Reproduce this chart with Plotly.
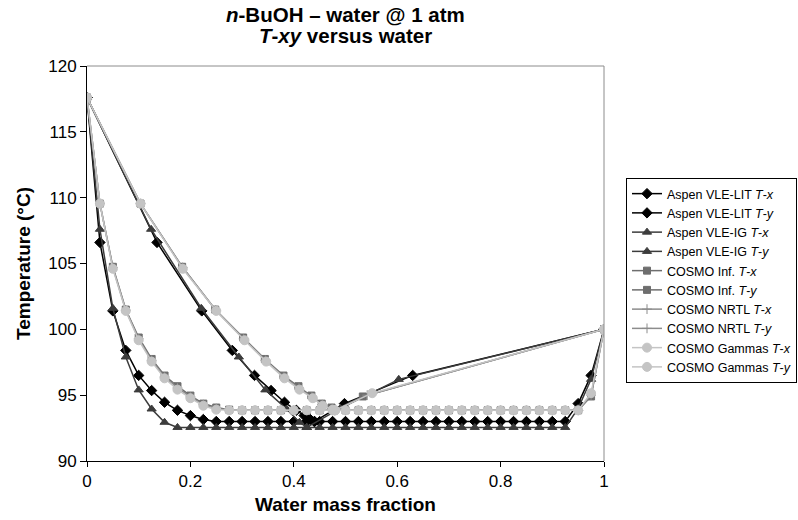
import plotly.graph_objects as go

# liquid mass fraction grid (x)
x_liq = [0.0, 0.025, 0.05, 0.075, 0.1, 0.125, 0.15, 0.175, 0.2, 0.225, 0.25,
         0.275, 0.3, 0.325, 0.35, 0.375, 0.4, 0.425, 0.45, 0.475, 0.5,
         0.525, 0.55, 0.575, 0.6, 0.625, 0.65, 0.675, 0.7, 0.725, 0.75,
         0.775, 0.8, 0.825, 0.85, 0.875, 0.9, 0.925, 0.95, 0.975, 1.0]

# Aspen VLE-LIT
lit_tx = [117.6, 106.6, 101.4, 98.4, 96.5, 95.35, 94.46, 93.85, 93.45, 93.15, 93.0,
          93.0, 93.0, 93.0, 93.0, 93.0, 93.0, 93.0, 93.0, 93.0, 93.0,
          93.0, 93.0, 93.0, 93.0, 93.0, 93.0, 93.0, 93.0, 93.0, 93.0,
          93.0, 93.0, 93.0, 93.0, 93.0, 93.0, 93.0, 94.36, 96.5, 100.0]
lit_y = [0.0, 0.1354, 0.222, 0.281, 0.324, 0.356, 0.382, 0.405, 0.42, 0.432, 0.44, 0.44, 0.498, 0.63, 1.0]
lit_ty = [117.6, 106.6, 101.4, 98.4, 96.5, 95.35, 94.46, 93.85, 93.45, 93.15, 93.0, 93.0, 94.36, 96.5, 100.0]

# Aspen VLE-IG
ig_tx = [117.6, 107.6, 101.6, 97.9, 95.4, 93.95, 92.94, 92.55, 92.55, 92.55, 92.55,
         92.55, 92.55, 92.55, 92.55, 92.55, 92.55, 92.55, 92.55, 92.55, 92.55,
         92.55, 92.55, 92.55, 92.55, 92.55, 92.55, 92.55, 92.55, 92.55, 92.55,
         92.55, 92.55, 92.55, 92.55, 92.55, 92.55, 92.55, 94.0, 96.2, 100.0]
ig_y = [0.0, 0.124, 0.221, 0.2937, 0.345, 0.386, 0.411, 0.425, 0.425, 0.49, 0.603, 1.0]
ig_ty = [117.6, 107.6, 101.6, 97.9, 95.4, 93.95, 92.94, 92.55, 92.55, 94.0, 96.2, 100.0]

# COSMO Inf.
inf_tx = [117.6, 109.55, 104.75, 101.5, 99.38, 97.75, 96.49, 95.68, 94.97, 94.36, 94.06,
          93.9, 93.85, 93.85, 93.85, 93.85, 93.85, 93.85, 93.85, 93.85, 93.85,
          93.85, 93.85, 93.85, 93.85, 93.85, 93.85, 93.85, 93.85, 93.85, 93.85,
          93.85, 93.85, 93.85, 93.85, 93.85, 93.85, 93.85, 93.85, 94.9, 100.0]
inf_y = [0.0, 0.1035, 0.184, 0.248, 0.302, 0.344, 0.38, 0.409, 0.434, 0.454, 0.473, 0.478, 0.478, 0.5335, 1.0]
inf_ty = [117.6, 109.55, 104.75, 101.5, 99.38, 97.75, 96.49, 95.68, 94.97, 94.36, 94.06, 93.85, 93.85, 94.9, 100.0]

# COSMO NRTL
nrtl_tx = [117.6, 109.55, 104.7, 101.45, 99.28, 97.65, 96.38, 95.55, 94.87, 94.28, 93.98,
           93.87, 93.85, 93.85, 93.85, 93.85, 93.85, 93.85, 93.85, 93.85, 93.85,
           93.85, 93.85, 93.85, 93.85, 93.85, 93.85, 93.85, 93.85, 93.85, 93.85,
           93.85, 93.85, 93.85, 93.85, 93.85, 93.85, 93.85, 93.85, 95.0, 100.0]
nrtl_y = [0.0, 0.1035, 0.185, 0.249, 0.303, 0.345, 0.381, 0.41, 0.435, 0.455, 0.474, 0.479, 0.479, 0.542, 1.0]
nrtl_ty = [117.6, 109.55, 104.7, 101.45, 99.28, 97.65, 96.38, 95.55, 94.87, 94.28, 93.98, 93.85, 93.85, 95.0, 100.0]

# COSMO Gammas
gam_tx = [117.6, 109.55, 104.6, 101.4, 99.17, 97.55, 96.28, 95.42, 94.77, 94.2, 93.9,
          93.85, 93.85, 93.85, 93.85, 93.85, 93.85, 93.85, 93.85, 93.85, 93.85,
          93.85, 93.85, 93.85, 93.85, 93.85, 93.85, 93.85, 93.85, 93.85, 93.85,
          93.85, 93.85, 93.85, 93.85, 93.85, 93.85, 93.85, 93.85, 95.15, 100.0]
gam_y = [0.0, 0.1035, 0.1853, 0.25, 0.3046, 0.3466, 0.382, 0.411, 0.4368, 0.456, 0.4754, 0.48, 0.48, 0.5516, 1.0]
gam_ty = [117.6, 109.55, 104.6, 101.4, 99.17, 97.55, 96.28, 95.42, 94.77, 94.2, 93.9, 93.85, 93.85, 95.15, 100.0]

FONT = "Liberation Sans, Arial, sans-serif"
W, H = 798, 520
PL, PR, PT, PB = 87, 604, 66, 461  # plot area edges in pixels
PW, PH = PR - PL, PB - PT

series = [
    ("Aspen VLE-LIT <i>T</i>-<i>x</i>", x_liq, lit_tx, "#000000", "diamond", 8),
    ("Aspen VLE-LIT <i>T</i>-<i>y</i>", lit_y, lit_ty, "#000000", "diamond", 8),
    ("Aspen VLE-IG <i>T</i>-<i>x</i>", x_liq, ig_tx, "#3c3c3c", "triangle-up", 8),
    ("Aspen VLE-IG <i>T</i>-<i>y</i>", ig_y, ig_ty, "#3c3c3c", "triangle-up", 8),
    ("COSMO Inf. <i>T</i>-<i>x</i>", x_liq, inf_tx, "#6e6e6e", "square", 7),
    ("COSMO Inf. <i>T</i>-<i>y</i>", inf_y, inf_ty, "#6e6e6e", "square", 7),
    ("COSMO NRTL <i>T</i>-<i>x</i>", x_liq, nrtl_tx, "#8c8c8c", "cross-thin", 7),
    ("COSMO NRTL <i>T</i>-<i>y</i>", nrtl_y, nrtl_ty, "#8c8c8c", "cross-thin", 7),
    ("COSMO Gammas <i>T</i>-<i>x</i>", x_liq, gam_tx, "#c4c4c4", "circle", 9),
    ("COSMO Gammas <i>T</i>-<i>y</i>", gam_y, gam_ty, "#c4c4c4", "circle", 9),
]

fig = go.Figure()
for name, xs, ys, col, sym, sz in series:
    fig.add_trace(go.Scatter(
        x=xs, y=ys, name=name, mode="lines+markers",
        line=dict(color=col, width=1.5),
        marker=dict(symbol=sym, size=sz, color=col, line=dict(color=col, width=1)),
    ))

fig.update_layout(
    width=W, height=H,
    margin=dict(l=PL, r=W - PR, t=PT, b=H - PB, autoexpand=False),
    paper_bgcolor="white", plot_bgcolor="white",
    font=dict(family=FONT, color="black"),
    xaxis=dict(
        range=[0, 1], dtick=0.2, tick0=0, showgrid=False, zeroline=False,
        showline=True, linecolor="black", linewidth=1,
        ticks="outside", ticklen=5, tickcolor="black",
        tickfont=dict(size=17, family=FONT),
        title=dict(text="<b>Water mass fraction</b>", font=dict(size=19, family=FONT), standoff=7),
    ),
    yaxis=dict(
        range=[90, 120], dtick=5, tick0=90, showgrid=False, zeroline=False,
        showline=True, linecolor="black", linewidth=1,
        ticks="outside", ticklen=6, tickcolor="black",
        tickfont=dict(size=17, family=FONT),
        title=dict(text="<b>Temperature (°C)</b>", font=dict(size=19, family=FONT), standoff=12),
    ),
    legend=dict(
        x=(626 - PL) / PW, xanchor="left", y=(PB - 178) / PH, yanchor="top",
        bordercolor="black", borderwidth=1, bgcolor="white",
        font=dict(size=12.5, family=FONT), itemwidth=30,
        tracegroupgap=0,
    ),
    showlegend=True,
    annotations=[
        dict(text="<b><i>n</i>-BuOH – water @ 1 atm</b>", xref="paper", yref="paper",
             x=0.5, y=1 + (PT - 15) / PH,
             xanchor="center", yanchor="middle", showarrow=False,
             font=dict(size=20.5, family=FONT)),
        dict(text="<b><i>T</i>-<i>xy</i> versus water</b>", xref="paper", yref="paper",
             x=0.5, y=1 + (PT - 35) / PH,
             xanchor="center", yanchor="middle", showarrow=False,
             font=dict(size=20.5, family=FONT)),
    ],
    shapes=[
        dict(type="line", xref="paper", yref="paper", x0=0, x1=1, y0=1, y1=1,
             line=dict(color="#8c8c8c", width=1)),
        dict(type="line", xref="paper", yref="paper", x0=1, x1=1, y0=0, y1=1,
             line=dict(color="#8c8c8c", width=1)),
    ],
)

fig.write_html("out.html")
